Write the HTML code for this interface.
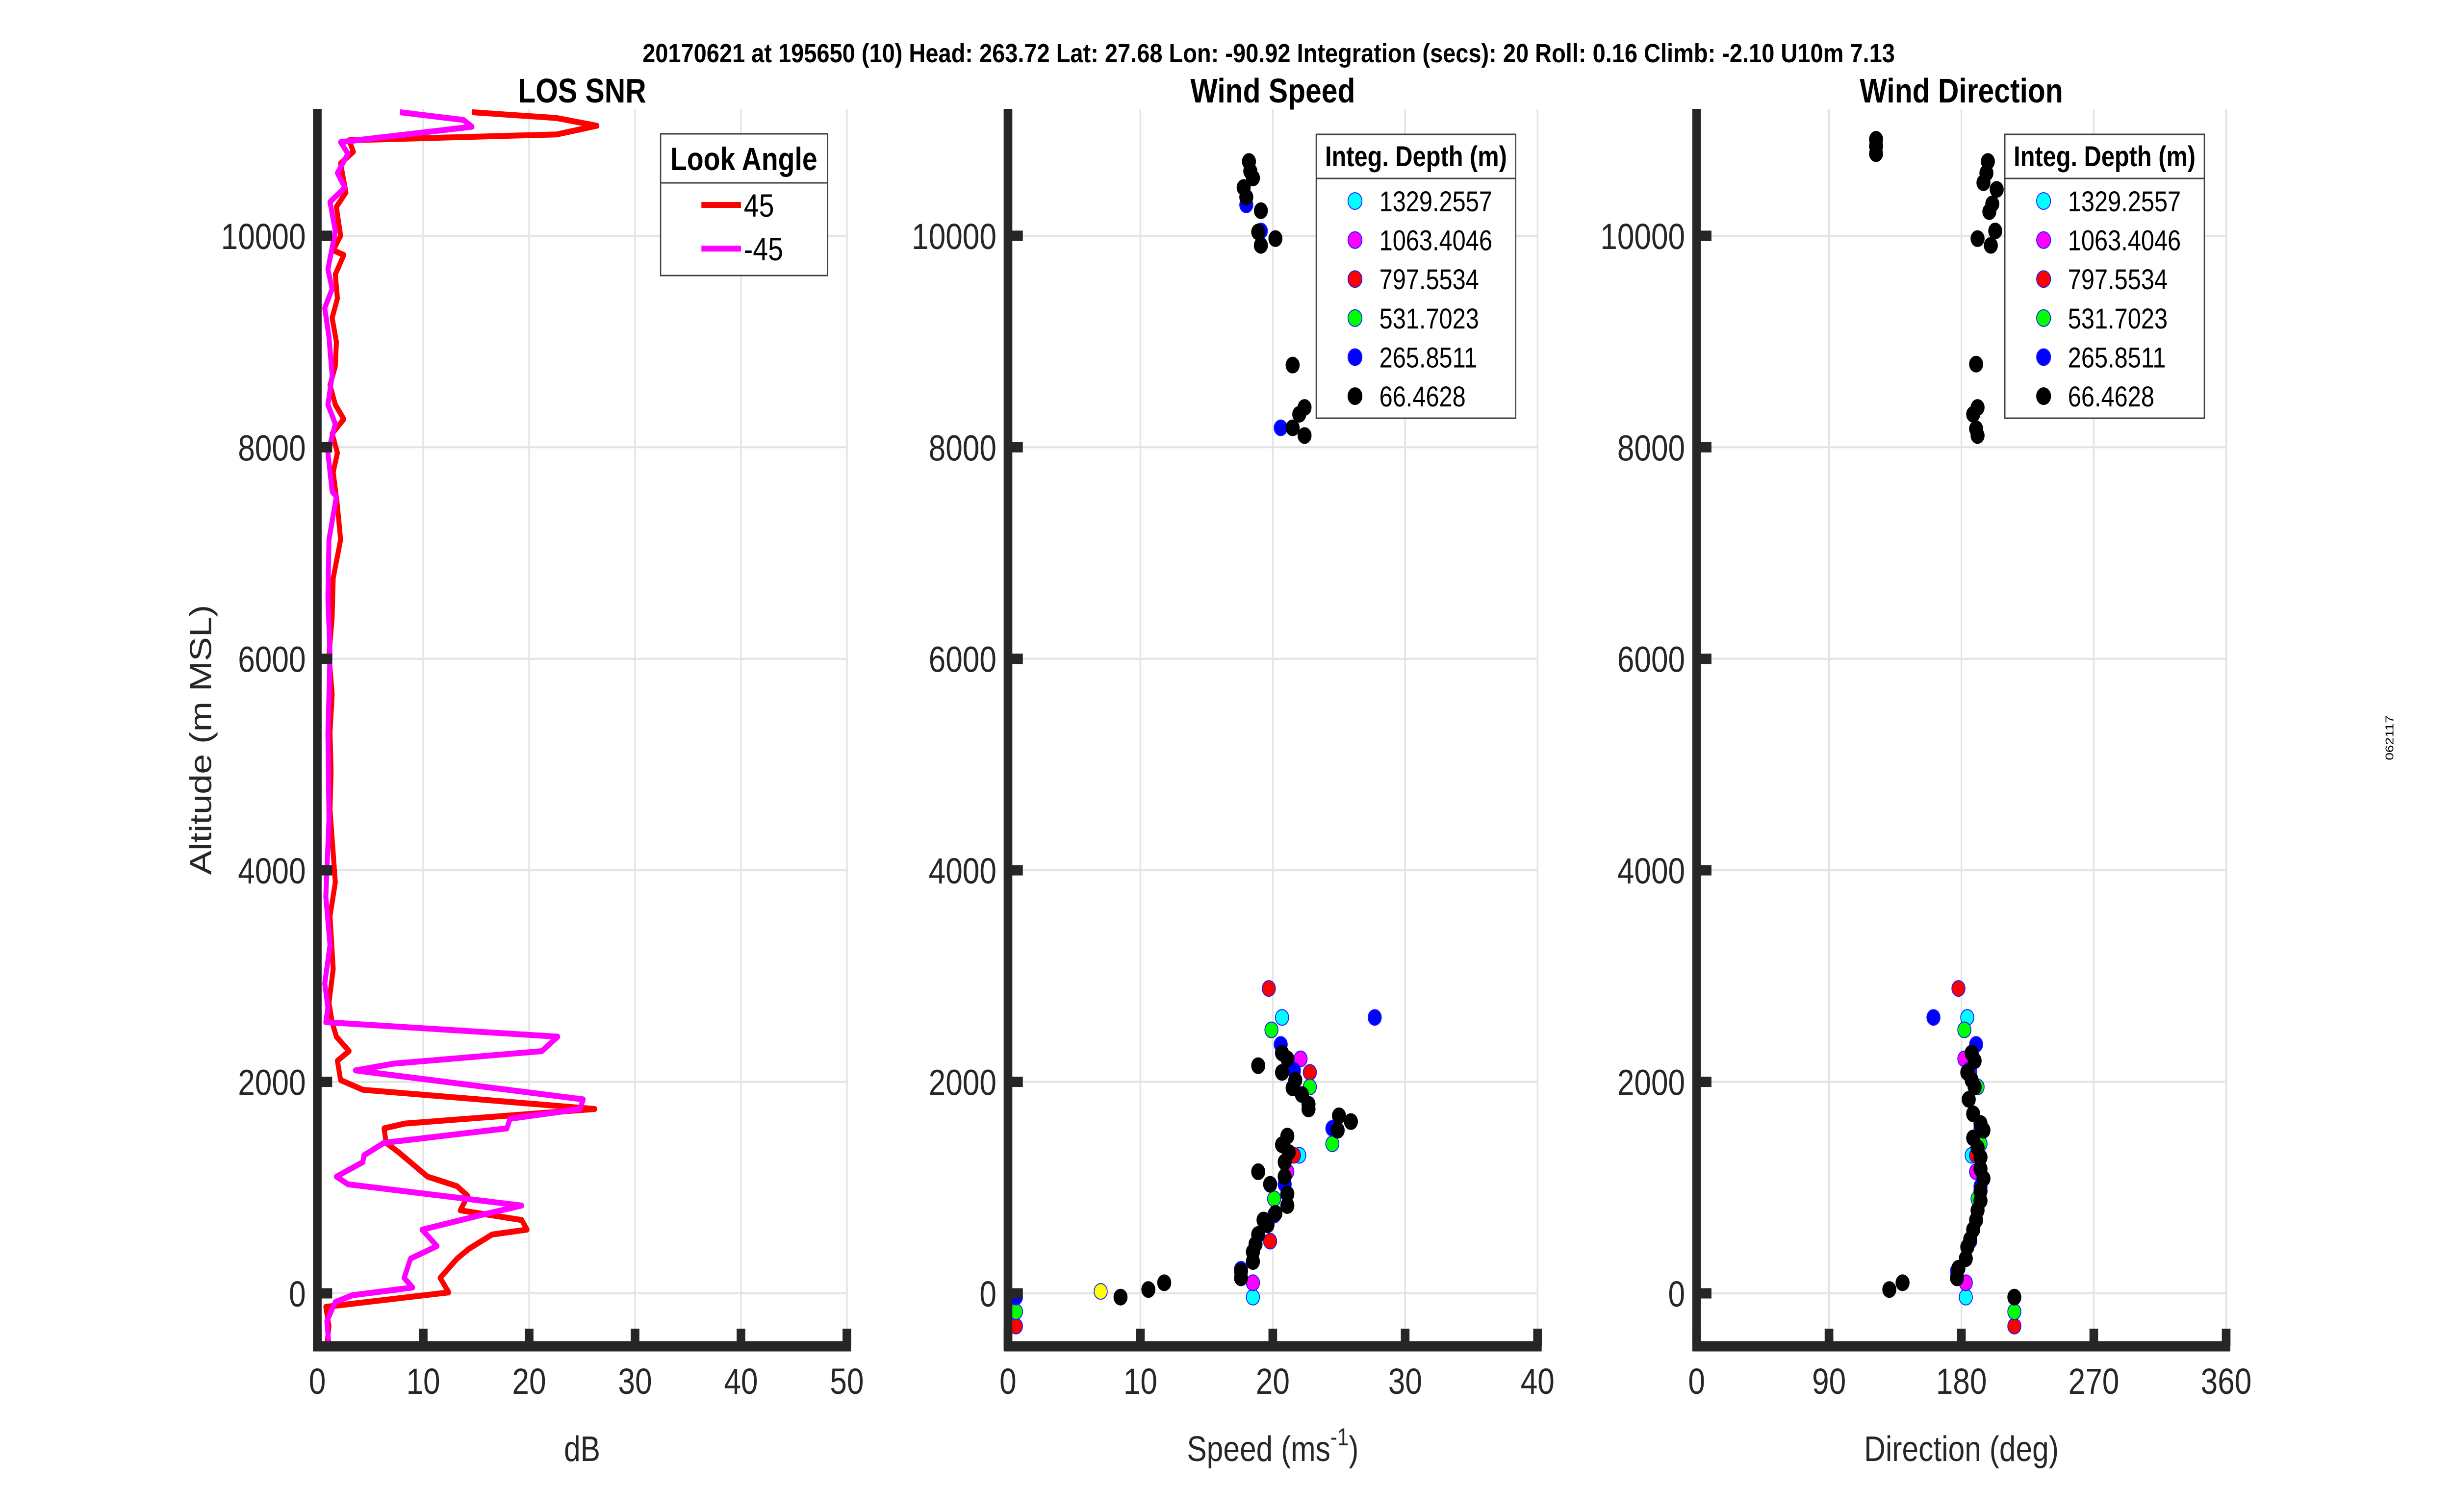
<!DOCTYPE html>
<html><head><meta charset="utf-8"><style>
html,body{margin:0;padding:0;background:#fff;width:100%;height:100%;overflow:hidden;}
svg{display:block;width:100vw;height:100vh;font-family:"Liberation Sans",Arial,sans-serif;}
</style></head><body>
<svg id="fig" viewBox="0 0 5950 3084" preserveAspectRatio="none" xmlns="http://www.w3.org/2000/svg">
<rect width="5950" height="3084" fill="#fff"/>
<text x="1559" y="127" font-size="54" font-weight="bold" textLength="3039" lengthAdjust="spacingAndGlyphs">20170621 at 195650 (10)  Head: 263.72  Lat: 27.68  Lon: -90.92  Integration (secs): 20  Roll: 0.16  Climb: -2.10  U10m 7.13</text>
<text transform="translate(5808,1505) rotate(-90)" font-size="28" text-anchor="middle">062117</text>
<g id="plots"></g>
</svg>
<script>
// ---- LOS SNR data ----
const snrRedDb = [14.6,22.6,26.4,22.6,3.0,3.4,2.2,2.7,1.8,2.2,1.5,2.5,1.7,1.9,1.4,1.8,1.7,1.2,1.7,2.5,1.4,1.9,1.5,1.9,2.2,1.5,1.4,1.1,1.4,1.2,1.3,1.2,1.7,1.2,1.5,1.1,1.4,1.8,3.0,1.9,2.2,4.3,26.2,8.3,6.3,6.5,7.7,10.4,13.2,14.2,13.5,19.3,19.8,16.5,14.3,13.2,11.6,12.4,0.8,1.1,0.9];
const snrRedAlt = [11168,11113,11040,10958,10903,10794,10684,10410,10273,10000,9863,9818,9635,9407,9224,8996,8768,8586,8403,8266,8129,7947,7765,7445,7126,6761,6396,6031,5666,5301,4936,4571,3887,3567,3066,2746,2564,2427,2290,2199,2016,1925,1743,1606,1560,1423,1332,1104,1013,922,785,693,602,556,420,328,146,9,-128,-310,-493];
const snrMagDb = [7.8,13.8,14.6,2.2,2.9,1.9,2.6,1.2,1.7,1.0,1.4,0.7,1.1,1.4,1.0,1.7,1.0,1.4,1.8,1.1,1.0,1.2,1.0,1.1,0.8,1.2,0.7,1.0,0.8,22.7,21.2,7.2,3.6,25.1,24.8,18.2,17.9,6.3,4.4,4.3,1.8,2.9,19.3,15.4,9.9,11.3,8.8,8.2,9.0,3.3,1.7,0.9,1.1];
const snrMagAlt = [11168,11095,11031,10885,10776,10593,10456,10319,10045,9681,9498,9316,9042,8677,8403,8221,7947,7582,7536,7126,6578,6031,5301,4480,3750,3294,2929,2701,2564,2427,2290,2172,2108,1834,1743,1651,1560,1423,1305,1241,1104,1031,830,739,602,447,328,146,55,-18,-82,-265,-493];
const snrTicksX = [0,10,20,30,40,50];
const altTicks = [0,2000,4000,6000,8000,10000];
const speedTicks = [0,10,20,30,40];
const dirTicks = [0,90,180,270,360];
const depthLabels = ["1329.2557","1063.4046","797.5534","531.7023","265.8511","66.4628"];
const depthColors = ["#00ffff","#ff00ff","#ff0000","#00ff00","#0000ff","#000000"];
// ---- Wind speed (m/s) / altitude per depth ----
const spdCyan = [20.7,22.0,18.5];           const spdCyanAlt = [2609,1305,-36];
const spdMag = [22.1,21.1,18.5];            const spdMagAlt = [2217,1150,100];
const spdRed = [19.7,22.8,21.6,19.8,0.6];   const spdRedAlt = [2883,2089,1305,493,-310];
const spdGreen = [19.9,22.8,24.5,20.1,0.6]; const spdGreenAlt = [2491,1952,1414,894,-173];
const spdBlue = [18.0,19.1,20.6,20.6,27.7,21.6,24.5,20.9,20.1,17.6,0.6];
const spdBlueAlt = [10292,10045,8184,2354,2609,2108,1560,1031,739,228,-36];
const spdBlack = [18.2,18.3,18.5,17.8,18.0,19.1,18.9,20.2,19.1,21.5,22.4,22.0,21.5,22.4,18.9,20.7,21.1,20.7,21.7,21.5,22.2,22.7,22.7,25.0,25.9,24.9,21.1,20.7,21.2,20.9,18.9,20.9,19.8,21.1,21.1,20.2,19.3,19.6,18.9,18.7,18.5,18.5,17.6,17.6,11.8,10.6,8.5];
const spdBlackAlt = [10702,10611,10547,10456,10365,10237,10036,9973,9909,8777,8376,8312,8184,8111,2153,2272,2217,2089,2016,1943,1880,1788,1743,1679,1624,1542,1487,1405,1332,1241,1150,1104,1031,940,830,757,693,648,557,465,392,301,210,146,100,36,-36];
const spdYellow = [7.0]; const spdYellowAlt = [18];
// ---- Wind direction (deg) / altitude per depth ----
const dirCyan = [184,187,183];              const dirCyanAlt = [2609,1305,-36];
const dirMag = [182,190,183];               const dirMagAlt = [2217,1150,100];
const dirRed = [178,186,190,186,216];       const dirRedAlt = [2883,2089,1305,493,-310];
const dirGreen = [182,191,193,191,216];     const dirGreenAlt = [2491,1952,1414,894,-173];
const dirBlue = [161,190,185,193,193,177];  const dirBlueAlt = [2609,2354,2108,1560,1013,210];
const dirBlack = [122,122,122,198,197,195,204,201,199,203,191,200,190,191,188,190,191,187,189,184,187,189,185,188,193,195,188,191,193,193,195,193,193,191,190,188,186,184,183,178,177,140,131,216];
const dirBlackAlt = [10912,10848,10776,10702,10593,10502,10438,10301,10228,10045,9973,9909,8786,8376,8312,8175,8111,2272,2199,2089,2016,1952,1834,1697,1606,1542,1469,1378,1287,1177,1086,967,876,785,693,602,511,438,328,237,146,100,36,-36];

const NS='http://www.w3.org/2000/svg';
const root=document.getElementById('plots');
function mk(tag,attrs,parent){const e=document.createElementNS(NS,tag);for(const k in attrs)e.setAttribute(k,attrs[k]);(parent||root).appendChild(e);return e;}
const Y0=2638, YTOP=222, YMIN=-500, YMAX=11200, YBOT=2746;
function yS(a){return Y0-(a)*( (Y0-YTOP)/YMAX );}
const AX=[{x0:770,max:50,ticks:snrTicksX,title:"LOS SNR",xl:"dB"},
          {x0:2446,max:40,ticks:speedTicks,title:"Wind Speed",xl:"Speed"},
          {x0:4117,max:360,ticks:dirTicks,title:"Wind Direction",xl:"Direction (deg)"}];
const W=1285;
AX.forEach((a,i)=>{
  const xS=v=>a.x0+v/a.max*W;
  a.xS=xS;
  const g=mk('g',{});
  
  
  a.ticks.forEach(t=>{const l=mk('line',{x1:xS(t),x2:xS(t),y1:YTOP,y2:YBOT,stroke:'#e3e3e3','stroke-width':4},g);
    });
  altTicks.forEach(t=>{const l=mk('line',{x1:a.x0,x2:a.x0+W,y1:yS(t),y2:yS(t),stroke:'#e3e3e3','stroke-width':4},g);
    });
  a.g=g;
});
function drawAxes(a,i){
  const g=mk('g',{});
  
  
  mk('line',{x1:a.x0,x2:a.x0,y1:YTOP,y2:YBOT+10,stroke:'#262626','stroke-width':21},g);
  mk('line',{x1:a.x0-10,x2:a.x0+W+10,y1:YBOT,y2:YBOT,stroke:'#262626','stroke-width':21},g);
  a.ticks.forEach(t=>{mk('line',{x1:a.xS(t),x2:a.xS(t),y1:YBOT,y2:YBOT-36,stroke:'#262626','stroke-width':21},g);
    const tx=mk('text',{x:a.xS(t),y:2843,'font-size':74,fill:'#262626','text-anchor':'middle'},g);tx.textContent=t;
    });
  altTicks.forEach(t=>{mk('line',{x1:a.x0,x2:a.x0+36,y1:yS(t),y2:yS(t),stroke:'#262626','stroke-width':21},g);
    const tx=mk('text',{x:a.x0-28,y:yS(t)+27,'font-size':74,fill:'#262626','text-anchor':'end'},g);tx.textContent=t;
    });
  const tt=mk('text',{x:a.x0+W/2,y:209,'font-size':70,'font-weight':'bold','text-anchor':'middle'},g);tt.textContent=a.title;
  
  const xl=mk('text',{x:a.x0+W/2,y:2980,'font-size':72,fill:'#262626','text-anchor':'middle'},g);
  
  if(i===1){xl.innerHTML='Speed (ms<tspan dy="-32" font-size="50">-1</tspan><tspan dy="32">)</tspan>';}
  else xl.textContent=a.xl;
}
function line(a,xs,ys,col,name){
  const p=xs.map((v,k)=>a.xS(v).toFixed(1)+','+yS(ys[k]).toFixed(1)).join(' ');
  const pl=mk('polyline',{points:p,fill:'none',stroke:col,'stroke-width':12,'stroke-linejoin':'round'});
  
  
}
line(AX[0],snrRedDb,snrRedAlt,'#ff0000','snr-line-45');
line(AX[0],snrMagDb,snrMagAlt,'#ff00ff','snr-line-minus45');
function pts(a,xs,ys,col,name){
  const g=mk('g',{});
  
  
  xs.forEach((v,k)=>{const c=mk('circle',{cx:a.xS(v),cy:yS(ys[k]),r:16,fill:col,stroke:col==='#000000'?'#000':'#1a1aff','stroke-width':2},g);
    });
}
const A2=AX[1],A3=AX[2];
pts(A2,spdCyan,spdCyanAlt,depthColors[0],'speed-series-1329');
pts(A2,spdMag,spdMagAlt,depthColors[1],'speed-series-1063');
pts(A2,spdRed,spdRedAlt,depthColors[2],'speed-series-797');
pts(A2,spdGreen,spdGreenAlt,depthColors[3],'speed-series-531');
pts(A2,spdBlue,spdBlueAlt,depthColors[4],'speed-series-265');
pts(A2,spdYellow,spdYellowAlt,'#ffff00','speed-series-yellow');
pts(A2,spdBlack,spdBlackAlt,depthColors[5],'speed-series-66');
pts(A3,dirCyan,dirCyanAlt,depthColors[0],'direction-series-1329');
pts(A3,dirMag,dirMagAlt,depthColors[1],'direction-series-1063');
pts(A3,dirRed,dirRedAlt,depthColors[2],'direction-series-797');
pts(A3,dirGreen,dirGreenAlt,depthColors[3],'direction-series-531');
pts(A3,dirBlue,dirBlueAlt,depthColors[4],'direction-series-265');
pts(A3,dirBlack,dirBlackAlt,depthColors[5],'direction-series-66');
AX.forEach(drawAxes);
const yl=mk('text',{transform:'translate(512,1509) rotate(-90)','font-size':74,fill:'#262626','text-anchor':'middle'});
yl.textContent='Altitude (m MSL)';


const L1=mk('g',{});


mk('rect',{x:1603,y:273,width:405,height:289,fill:'#fff',stroke:'#404040','stroke-width':3},L1);
mk('line',{x1:1603,x2:2008,y1:373,y2:373,stroke:'#404040','stroke-width':3},L1);
let t=mk('text',{x:1805,y:347,'font-size':66,'font-weight':'bold','text-anchor':'middle'},L1);t.textContent='Look Angle';
[['45','#ff0000',423],['-45','#ff00ff',512]].forEach(([lab,c,y])=>{
  const e=mk('g',{},L1);
  
  
  mk('line',{x1:1702,x2:1798,y1:y-5,y2:y-5,stroke:c,'stroke-width':12},e);
  const tx=mk('text',{x:1805,y:y+19,'font-size':66},e);tx.textContent=lab;
});
[[3194,'legend-speed-depth'],[4865,'legend-direction-depth']].forEach(([lx,nm])=>{
  const L=mk('g',{});
  
  
  mk('rect',{x:lx,y:274,width:484,height:579,fill:'#fff',stroke:'#404040','stroke-width':3},L);
  mk('line',{x1:lx,x2:lx+484,y1:364,y2:364,stroke:'#404040','stroke-width':3},L);
  const h=mk('text',{x:lx+242,y:339,'font-size':58,'font-weight':'bold','text-anchor':'middle'},L);h.textContent='Integ. Depth (m)';
  depthLabels.forEach((lab,k)=>{
    const y=410+k*79.6;
    const e=mk('g',{},L);
    
    
    mk('circle',{cx:lx+94,cy:y,r:17,fill:depthColors[k],stroke:k===5?'#000':'#1a1aff','stroke-width':2},e);
    const tx=mk('text',{x:lx+153,y:y+21,'font-size':58},e);tx.textContent=lab;
  });
});
</script>
</body></html>
